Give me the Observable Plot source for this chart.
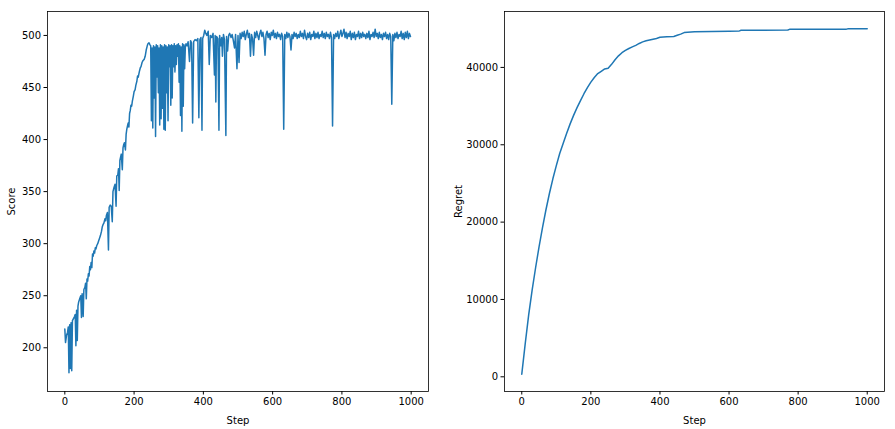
<!DOCTYPE html>
<html>
<head>
<meta charset="utf-8">
<script src="https://cdn.jsdelivr.net/npm/d3@7"></script>
<script src="https://cdn.jsdelivr.net/npm/@observablehq/plot@0.6"></script>
<style>
  html, body { margin: 0; padding: 0; background: white; }
  #wrap { position: relative; width: 895px; height: 429px; }
  #left, #right { position: absolute; top: 0; }
  #left { left: 0; }
  #right { left: 447px; }
</style>
</head>
<body>
<div id="wrap"><div id="left"></div><div id="right"></div></div>
<script>
const xTicks = [0, 200, 400, 600, 800, 1000];
const scoreTicks = [200, 250, 300, 350, 400, 450, 500];
const regretTicks = [0, 10000, 20000, 30000, 40000];

// [step, score]
const scoreRise = [[0,218],[2,205],[5,212],[8,215],[10,220],[12,176],[14,222],[16,180],[18,224],[20,178],[22,226],[25,228],[28,230],[30,232],[32,202],[34,236],[36,207],[38,240],[40,244],[43,247],[46,250],[48,229],[50,252],[53,230],[55,256],[58,258],
[60,262],[62,247],[64,266],[66,264],[68,271],[70,269],[72,278],[74,275],[76,282],[78,277],[80,290],[82,288],[84,293],[86,291],[88,296],[90,295],[92,298],[95,300],[98,303],[100,305],[103,308],[106,312],[108,316],[110,318],[113,320],[116,324],[118,322],[120,327],[123,330],[126,294],[128,335],[131,337],[134,336],[137,321],[139,350],[142,354],[145,357],[148,336],[150,365],[153,366],[155,372],[157,351],[159,380],[161,383],[163,386],[166,371],[168,392],[170,395],[172,397],[175,390],[177,405],[179,410],[181,413],[183,416],[185,412],[187,425],[189,428],[191,433],[193,432],[195,437],[198,442],[200,446],[203,448],[205,452],[208,456],[210,461],[212,460],[215,465],[218,469],[220,470],[223,474],[226,476],[229,477],[232,480],[235,486],[238,490],[240,492],[243,493],[246,491],[248,490]];
const scoreUnstable = [[250,418],[252,488],[254,411],[256,490],[258,440],[260,489],[262,403],[264,491],[266,460],[268,490],[270,445],[272,488],[274,414],[276,491],[278,420],[280,490],[282,430],[284,489],[286,410],[288,491],[290,409],[292,490],[294,445],[296,489],[298,418],[300,491],[302,470],[304,490],[306,433],[308,491],[310,440],[312,490],[314,470],[316,492],[318,465],[320,490],[322,472],[324,491],[326,480],[328,492],[330,455],[332,490],[334,423],[336,489],[338,408],[340,492],[342,432],[344,491],[346,468],[348,489],[350,492],[353,490],[356,494],[360,475],[363,495],[366,493],[369,416],[372,494],[376,496],[380,495],[384,497],[387,421],[390,496],[393,498],[396,409],[398,497],[401,500],[404,505],[407,502],[410,500],[414,504],[417,472],[420,500],[424,498],[428,502],[432,462],[434,500],[436,436],[438,499],[442,497],[445,409],[447,500],[450,490],[453,498],[455,480],[458,501],[461,496],[465,404],[467,499],[470,485],[473,500],[476,502],[480,498],[483,501],[486,496],[490,488],[493,501],[497,468]];
const scoreStable = [[500,500],[503,474],[506,502],[509,497],[512,503],[515,499],[518,504],[521,496],[524,501],[527,505],[530,498],[533,502],[536,480],[539,501],[542,497],[545,481],[548,503],[551,498],[554,504],[557,500],[560,496],[563,502],[566,505],[569,499],[572,503],[575,497],[578,481],[581,501],[584,504],[587,498],[590,502],[593,496],[596,503],[599,500],[602,505],[605,498],[608,502],[611,497],[614,503],[617,499],[620,501],[623,496],[626,502],[629,499],[632,410],[635,501],[638,497],[641,503],[644,498],[647,502],[650,499],[653,486],[656,501],[659,497],[662,503],[665,499],[668,502],[671,497],[674,501],[677,498],[680,504],[683,499],[686,502],[689,497],[692,505],[695,499],[698,496],[701,502],[704,498],[707,503],[710,496],[713,501],[716,499],[719,504],[722,497],[725,502],[728,498],[731,503],[734,497],[737,501],[740,499],[743,504],[746,498],[749,502],[752,497],[755,503],[758,499],[761,501],[764,497],[767,503],[770,498],[773,413],[776,501],[779,497],[782,502],[785,499],[788,504],[791,497],[794,501],[797,505],[800,499],[803,502],[806,506],[809,498],[812,503],[815,497],[818,502],[821,499],[824,504],[827,496],[830,502],[833,498],[836,503],[839,496],[842,501],[845,499],[848,504],[851,497],[854,502],[857,498],[860,503],[863,499],[866,501],[869,497],[872,502],[875,498],[878,504],[881,496],[884,501],[887,499],[890,503],[893,498],[896,506],[899,499],[902,502],[905,497],[908,503],[911,498],[914,501],[917,496],[920,502],[923,499],[926,503],[929,497],[932,501],[935,496],[938,502],[941,499],[944,434],[947,501],[950,495],[953,502],[956,498],[959,503],[962,497],[965,501],[968,499],[971,504],[974,497],[977,502],[980,496],[983,503],[986,498],[989,504],[992,497],[995,502],[998,499]];

const regretSteps = [0,10,20,30,40,50,60,70,80,90,100,110,120,130,140,150,160,170,180,190,200,210,220,230,240,250,260,270,280,290,300,310,320,330,340,350,360,370,380,390,400,420,440,450,460,470,480,500,550,600,630,635,700,770,775,900,940,945,1000];
const regrets = [340,4300,8000,11200,14100,16800,19300,21600,23700,25600,27300,28900,30200,31500,32700,33800,34800,35700,36600,37400,38100,38700,39200,39500,39800,39900,40400,41000,41500,41900,42200,42450,42650,42850,43100,43300,43450,43550,43650,43750,43900,43950,44000,44150,44300,44500,44550,44600,44650,44690,44720,44800,44820,44840,44920,44940,44950,44990,45000];

const scoreData = [...scoreRise, ...scoreUnstable, ...scoreStable].map(([s, v]) => ({step: s, value: v}));
const regretData = regretSteps.map((s, i) => ({step: s, value: regrets[i]}));

const blue = "#1f77b4";
const fmt = d => String(d);
const style = {fontFamily: "DejaVu Sans", fontSize: "10px", color: "black", background: "white", overflow: "visible"};

function panel(data, opts) {
  return Plot.plot({
    width: opts.width, height: 429,
    marginLeft: opts.ml, marginRight: opts.mr, marginTop: 11, marginBottom: 38,
    style,
    x: {domain: [-50, 1050]},
    y: {domain: opts.ydomain},
    marks: [
      Plot.axisX({ticks: xTicks, tickSize: 3.5, tickPadding: 3, tickFormat: fmt,
        label: "Step", labelAnchor: "center", labelArrow: "none", labelOffset: 32}),
      Plot.axisY({ticks: opts.yticks, tickSize: 3.5, tickPadding: 3, tickFormat: fmt,
        label: opts.ylabel, labelAnchor: "center", labelArrow: "none", labelOffset: opts.lo}),
      Plot.line(data, {x: "step", y: "value", stroke: blue, strokeWidth: 1.5}),
      Plot.frame({stroke: "black", strokeWidth: 0.8})
    ]
  });
}

document.getElementById("left").append(panel(scoreData, {width: 447, ml: 47, mr: 19, ydomain: [158, 523], yticks: scoreTicks, ylabel: "Score", lo: 40}));
document.getElementById("right").append(panel(regretData, {width: 448, ml: 57, mr: 11, ydomain: [-1900, 47230], yticks: regretTicks, ylabel: "Regret", lo: 50}));
</script>
</body>
</html>
